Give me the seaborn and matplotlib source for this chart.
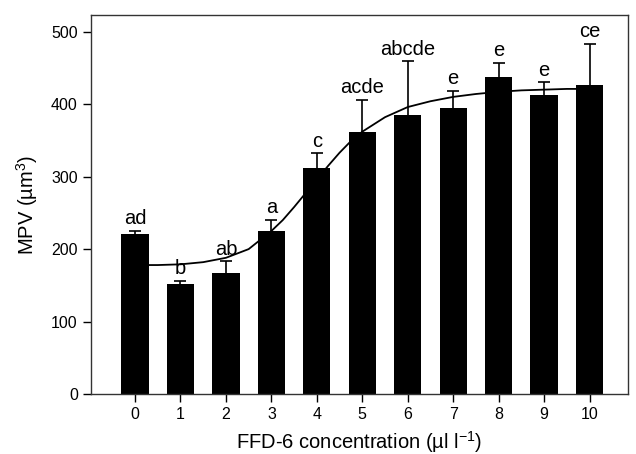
import numpy as np
import pandas as pd
import matplotlib
matplotlib.use("Agg")
import matplotlib.pyplot as plt
import seaborn as sns

# Data
conc = [0, 1, 2, 3, 4, 5, 6, 7, 8, 9, 10]
mpv = [221, 152, 167, 225, 312, 362, 385, 395, 438, 413, 427]
err = [4, 4, 16, 15, 20, 44, 74, 23, 19, 17, 56]
letters = ["ad", "b", "ab", "a", "c", "acde", "abcde", "e", "e", "e", "ce"]

# fitted curve
curve_x = [0, 0.5, 1, 1.5, 2, 2.5, 3, 3.25, 3.5, 3.75, 4, 4.25, 4.5, 4.75, 5, 5.5, 6, 6.5, 7, 7.5, 8, 8.5, 9, 9.5, 10]
curve_y = [178, 178, 179, 182, 188, 200, 225, 240, 258, 277, 296, 315, 333, 349, 362, 382, 396, 404, 410, 414, 417, 419, 420, 421, 421]

sns.set_style("ticks")
plt.rcParams['font.family'] = ['Liberation Sans', 'DejaVu Sans']
plt.rcParams['mathtext.fontset'] = 'custom'
plt.rcParams['mathtext.rm'] = 'Liberation Sans'
plt.rcParams['mathtext.it'] = 'Liberation Sans'
plt.rcParams['text.color'] = 'black'
plt.rcParams['axes.labelcolor'] = 'black'

df = pd.DataFrame({"conc": conc, "mpv": mpv})
tops = np.array(mpv) + np.array(err)

fig = plt.figure(figsize=(6.36, 4.54), dpi=100)
ax = fig.add_axes([0.143, 0.132, 0.844, 0.835])

# curve behind the bars
ax.plot(curve_x, curve_y, color="black", lw=1.3, zorder=1)

# error bars, upper half only
ax.errorbar(conc, mpv, yerr=[np.zeros(len(err)), err], fmt="none",
            ecolor="black", elinewidth=1.2, capsize=0, zorder=1.5)
ax.plot(conc, tops, ls="none", marker="_", ms=8, mew=1.2, color="black", zorder=1.5)

sns.barplot(data=df, x="conc", y="mpv", native_scale=True, width=0.6,
            color="black", saturation=1, errorbar=None, ax=ax, zorder=2,
            edgecolor="black", linewidth=0)

for x, y, t in zip(conc, tops, letters):
    ax.annotate(t, (x, y), xytext=(0, 2), textcoords="offset points",
                ha="center", va="bottom", fontsize=14.5)

ax.set_xlim(-0.97, 10.84)
ax.set_ylim(0, 523)
ax.set_xticks(conc)
ax.set_xticklabels([str(c) for c in conc])
ax.set_yticks([0, 100, 200, 300, 400, 500])
ax.tick_params(direction="out", length=6, width=1, labelsize=11.5, colors="black")
for s in ax.spines.values():
    s.set_visible(True)
    s.set_color("#333333")
    s.set_linewidth(1)

ax.set_xlabel("FFD-6 concentration (µl l$^{-1}$)", fontsize=14.5, labelpad=5)
ax.set_ylabel("MPV (µm$^{3}$)", fontsize=14.5, labelpad=8)

fig.savefig("out.png", dpi=100)
